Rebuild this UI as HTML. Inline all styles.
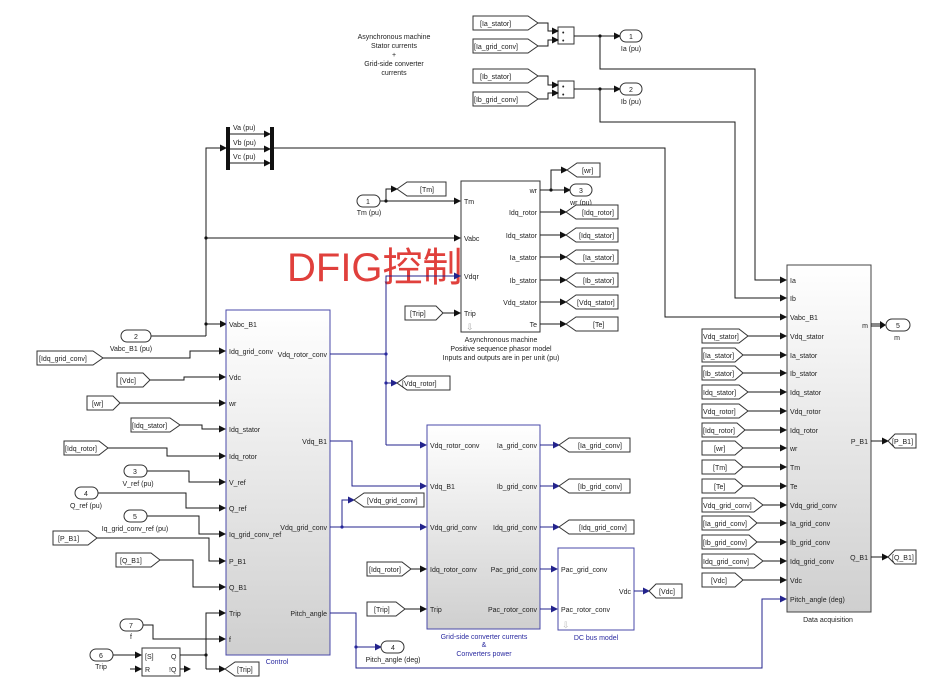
<!DOCTYPE html>
<html><head><meta charset="utf-8"><style>
html,body{margin:0;padding:0;background:#fff;}
svg{display:block;font-family:"Liberation Sans",Arial,sans-serif;}
text{font-size:7px;fill:#222;}
.k{stroke:#1a1a1a;stroke-width:1;fill:none;}
.b{stroke:#23238c;stroke-width:1;fill:none;}
.tag{fill:#fff;stroke:#333;stroke-width:1;}
.bl{fill:#2a2aa0;}
</style></head><body>
<svg width="945" height="695" viewBox="0 0 945 695" xmlns="http://www.w3.org/2000/svg">
<defs>
<marker id="ak" markerWidth="7" markerHeight="7" refX="6" refY="3.5" orient="auto" markerUnits="userSpaceOnUse"><path d="M0,0 L7,3.5 L0,7 z" fill="#111"/></marker>
<marker id="ab" markerWidth="7" markerHeight="7" refX="6" refY="3.5" orient="auto" markerUnits="userSpaceOnUse"><path d="M0,0 L7,3.5 L0,7 z" fill="#23238c"/></marker>
<linearGradient id="g" x1="0" y1="0" x2="0" y2="1"><stop offset="0" stop-color="#ffffff"/><stop offset="1" stop-color="#cfcfcf"/></linearGradient>
</defs>

<g text-anchor="middle"><text x="394" y="39">Asynchronous machine</text><text x="394" y="48">Stator currents</text><text x="394" y="57">+</text><text x="394" y="66">Grid-side converter</text><text x="394" y="75">currents</text></g>

<polygon class="tag" points="473,16 528,16 538,23 528,30 473,30"/><text x="480" y="26">[Ia_stator]</text>
<polygon class="tag" points="473,39 528,39 538,46 528,53 473,53"/><text x="474" y="49">[Ia_grid_conv]</text>
<rect x="558" y="27" width="16" height="17" fill="#fff" stroke="#333"/><text x="562" y="35" font-size="7">•</text><text x="562" y="43" font-size="7">•</text>
<path class="k" d="M538,23 H548 V31 H558" marker-end="url(#ak)"/><path class="k" d="M538,46 H548 V40 H558" marker-end="url(#ak)"/>
<path class="k" d="M574,36 H620" marker-end="url(#ak)"/><circle cx="600" cy="36" r="1.6" fill="#111"/>
<rect x="620" y="30" width="22" height="12" rx="6" fill="#fff" stroke="#333"/><text x="631" y="39" text-anchor="middle">1</text><text x="631" y="51" text-anchor="middle">Ia (pu)</text>
<path class="k" d="M600,36 V69 H755 V280 H786" marker-end="url(#ak)"/>

<polygon class="tag" points="473,69 528,69 538,76 528,83 473,83"/><text x="480" y="79">[Ib_stator]</text>
<polygon class="tag" points="473,92 528,92 538,99 528,106 473,106"/><text x="474" y="102">[Ib_grid_conv]</text>
<rect x="558" y="81" width="16" height="17" fill="#fff" stroke="#333"/><text x="562" y="89" font-size="7">•</text><text x="562" y="97" font-size="7">•</text>
<path class="k" d="M538,76 H548 V85 H558" marker-end="url(#ak)"/><path class="k" d="M538,99 H548 V93 H558" marker-end="url(#ak)"/>
<path class="k" d="M574,89 H620" marker-end="url(#ak)"/><circle cx="600" cy="89" r="1.6" fill="#111"/>
<rect x="620" y="83" width="22" height="12" rx="6" fill="#fff" stroke="#333"/><text x="631" y="92" text-anchor="middle">2</text><text x="631" y="104" text-anchor="middle">Ib (pu)</text>
<path class="k" d="M600,89 V122 H735 V298 H786" marker-end="url(#ak)"/>

<rect x="226" y="127" width="4" height="43" fill="#111"/><rect x="270" y="127" width="4" height="43" fill="#111"/>
<text x="233" y="130">Va (pu)</text><text x="233" y="145">Vb (pu)</text><text x="233" y="159">Vc (pu)</text>
<path class="k" d="M230,134 H270" marker-end="url(#ak)"/><path class="k" d="M230,149 H270" marker-end="url(#ak)"/><path class="k" d="M230,163 H270" marker-end="url(#ak)"/>
<path class="k" d="M274,148 H665 V317 H786" marker-end="url(#ak)"/>
<path class="k" d="M206,336 V148 H226" marker-end="url(#ak)"/>
<path class="k" d="M206,238 H460" marker-end="url(#ak)"/><circle cx="206" cy="238" r="1.6" fill="#111"/>
<path class="k" d="M206,324 H226" marker-end="url(#ak)"/><circle cx="206" cy="324" r="1.6" fill="#111"/>
<path class="k" d="M151,336 H206"/>
<rect x="121" y="330" width="30" height="12" rx="6" fill="#fff" stroke="#333"/><text x="136" y="339" text-anchor="middle">2</text><text x="131" y="351" text-anchor="middle">Vabc_B1 (pu)</text>

<text x="287" y="281" style="font-size:40px;fill:#e0403c;font-family:'Liberation Sans','Noto Sans CJK SC',sans-serif;">DFIG控制</text>

<rect x="461" y="181" width="79" height="151" fill="#fff" stroke="#333"/>
<text x="464" y="204">Tm</text><text x="464" y="241">Vabc</text><text x="464" y="279">Vdqr</text><text x="464" y="316">Trip</text>
<g text-anchor="end"><text x="537" y="193">wr</text><text x="537" y="215">Idq_rotor</text><text x="537" y="238">Idq_stator</text><text x="537" y="260">Ia_stator</text><text x="537" y="283">Ib_stator</text><text x="537" y="305">Vdq_stator</text><text x="537" y="327">Te</text></g>
<text x="466" y="330" style="fill:#aaa;font-size:9px">⇩</text>
<g text-anchor="middle"><text x="501" y="342">Asynchronous machine</text><text x="501" y="351">Positive sequence phasor model</text><text x="501" y="360">Inputs and outputs are in per unit (pu)</text></g>
<rect x="357" y="195" width="23" height="12" rx="6" fill="#fff" stroke="#333"/><text x="368" y="204" text-anchor="middle">1</text><text x="369" y="215" text-anchor="middle">Tm (pu)</text>
<path class="k" d="M380,201 H460" marker-end="url(#ak)"/><circle cx="386" cy="201" r="1.6" fill="#111"/>
<path class="k" d="M386,201 V189 H397" marker-end="url(#ak)"/>
<polygon class="tag" points="397,189 407,182 446,182 446,196 407,196"/><text x="420" y="192">[Tm]</text>
<polygon class="tag" points="405,306 436,306 443,313 436,320 405,320"/><text x="410" y="316">[Trip]</text>
<path class="k" d="M443,313 H460" marker-end="url(#ak)"/>
<path class="k" d="M540,190 H570" marker-end="url(#ak)"/><circle cx="551" cy="190" r="1.6" fill="#111"/>
<path class="k" d="M551,190 V170 H567" marker-end="url(#ak)"/>
<polygon class="tag" points="567,170 577,163 600,163 600,177 577,177"/><text x="582" y="173">[wr]</text>
<rect x="570" y="184" width="22" height="12" rx="6" fill="#fff" stroke="#333"/><text x="581" y="193" text-anchor="middle">3</text><text x="581" y="205" text-anchor="middle">wr (pu)</text>
<g>
<path class="k" d="M540,212 H566" marker-end="url(#ak)"/><polygon class="tag" points="566,212 576,205 618,205 618,219 576,219"/><text x="582" y="215">[Idq_rotor]</text>
<path class="k" d="M540,235 H566" marker-end="url(#ak)"/><polygon class="tag" points="566,235 576,228 618,228 618,242 576,242"/><text x="579" y="238">[Idq_stator]</text>
<path class="k" d="M540,257 H566" marker-end="url(#ak)"/><polygon class="tag" points="566,257 576,250 618,250 618,264 576,264"/><text x="583" y="260">[Ia_stator]</text>
<path class="k" d="M540,280 H566" marker-end="url(#ak)"/><polygon class="tag" points="566,280 576,273 618,273 618,287 576,287"/><text x="583" y="283">[Ib_stator]</text>
<path class="k" d="M540,302 H566" marker-end="url(#ak)"/><polygon class="tag" points="566,302 576,295 618,295 618,309 576,309"/><text x="577" y="305">[Vdq_stator]</text>
<path class="k" d="M540,324 H566" marker-end="url(#ak)"/><polygon class="tag" points="566,324 576,317 618,317 618,331 576,331"/><text x="593" y="327">[Te]</text>
</g>

<rect x="226" y="310" width="104" height="345" fill="url(#g)" stroke="#4a4aa8"/>
<text x="277" y="664" text-anchor="middle" style="fill:#2a2aa0">Control</text>
<g>
<text x="229" y="327">Vabc_B1</text><text x="229" y="354">Idq_grid_conv</text><text x="229" y="380">Vdc</text><text x="229" y="406">wr</text><text x="229" y="432">Idq_stator</text><text x="229" y="459">Idq_rotor</text><text x="229" y="485">V_ref</text><text x="229" y="511">Q_ref</text><text x="229" y="537">Iq_grid_conv_ref</text><text x="229" y="564">P_B1</text><text x="229" y="590">Q_B1</text><text x="229" y="616">Trip</text><text x="229" y="642">f</text>
</g>
<g text-anchor="end"><text x="327" y="357">Vdq_rotor_conv</text><text x="327" y="444">Vdq_B1</text><text x="327" y="530">Vdq_grid_conv</text><text x="327" y="616">Pitch_angle</text></g>

<polygon class="tag" points="37,351 93,351 103,358 93,365 37,365"/><text x="39" y="361">[Idq_grid_conv]</text>
<path class="k" d="M103,358 H190 V351 H225" marker-end="url(#ak)"/>
<polygon class="tag" points="117,373 143,373 150,380 143,387 117,387"/><text x="120" y="383">[Vdc]</text>
<path class="k" d="M150,380 H184 V377 H225" marker-end="url(#ak)"/>
<polygon class="tag" points="87,396 113,396 120,403 113,410 87,410"/><text x="92" y="406">[wr]</text>
<path class="k" d="M120,403 H225" marker-end="url(#ak)"/>
<polygon class="tag" points="131,418 170,418 180,425 170,432 131,432"/><text x="132" y="428">[Idq_stator]</text>
<path class="k" d="M180,425 H202 V429 H225" marker-end="url(#ak)"/>
<polygon class="tag" points="64,441 99,441 108,448 99,455 64,455"/><text x="65" y="451">[Idq_rotor]</text>
<path class="k" d="M108,448 H167 V456 H225" marker-end="url(#ak)"/>
<rect x="124" y="465" width="23" height="12" rx="6" fill="#fff" stroke="#333"/><text x="135" y="474" text-anchor="middle">3</text><text x="138" y="486" text-anchor="middle">V_ref (pu)</text>
<path class="k" d="M147,471 H189 V482 H225" marker-end="url(#ak)"/>
<rect x="75" y="487" width="23" height="12" rx="6" fill="#fff" stroke="#333"/><text x="86" y="496" text-anchor="middle">4</text><text x="86" y="508" text-anchor="middle">Q_ref (pu)</text>
<path class="k" d="M98,493 H186 V508 H225" marker-end="url(#ak)"/>
<rect x="124" y="510" width="23" height="12" rx="6" fill="#fff" stroke="#333"/><text x="135" y="519" text-anchor="middle">5</text><text x="135" y="531" text-anchor="middle">Iq_grid_conv_ref (pu)</text>
<path class="k" d="M147,516 H199 V534 H225" marker-end="url(#ak)"/>
<polygon class="tag" points="53,531 88,531 97,538 88,545 53,545"/><text x="58" y="541">[P_B1]</text>
<path class="k" d="M97,538 H209 V561 H225" marker-end="url(#ak)"/>
<polygon class="tag" points="116,553 151,553 160,560 151,567 116,567"/><text x="120" y="563">[Q_B1]</text>
<path class="k" d="M160,560 H193 V587 H225" marker-end="url(#ak)"/>
<rect x="120" y="619" width="23" height="12" rx="6" fill="#fff" stroke="#333"/><text x="131" y="628" text-anchor="middle">7</text><text x="131" y="639" text-anchor="middle">f</text>
<path class="k" d="M143,625 H153 V639 H225" marker-end="url(#ak)"/>
<rect x="90" y="649" width="23" height="12" rx="6" fill="#fff" stroke="#333"/><text x="101" y="658" text-anchor="middle">6</text><text x="101" y="669" text-anchor="middle">Trip</text>
<path class="k" d="M113,655 H141" marker-end="url(#ak)"/>
<path class="k" d="M130,669 H141" marker-end="url(#ak)"/>
<rect x="142" y="648" width="38" height="28" fill="#fff" stroke="#333"/>
<text x="145" y="659">[S]</text><text x="145" y="672">R</text><text x="171" y="659">Q</text><text x="169" y="672">!Q</text>
<path class="k" d="M180,669 H190" marker-end="url(#ak)"/>
<path class="k" d="M180,655 H206"/><circle cx="206" cy="655" r="1.6" fill="#111"/>
<path class="k" d="M206,669 V613 H225" marker-end="url(#ak)"/>
<path class="k" d="M206,669 H225" marker-end="url(#ak)"/>
<polygon class="tag" points="225,669 235,662 259,662 259,676 235,676"/><text x="237" y="672">[Trip]</text>

<path class="b" d="M330,354 H386"/>
<path class="b" d="M386,445 V276 H460" marker-end="url(#ab)"/>
<path class="b" d="M386,445 H426" marker-end="url(#ab)"/>
<circle cx="386" cy="354" r="1.6" class="bl"/><circle cx="386" cy="383" r="1.6" class="bl"/>
<path class="b" d="M386,383 H397" marker-end="url(#ab)"/>
<polygon class="tag" points="397,383 407,376 450,376 450,390 407,390"/><text x="402" y="386">[Vdq_rotor]</text>
<path class="b" d="M330,441 H352 V486 H426" marker-end="url(#ab)"/>
<path class="b" d="M330,527 H426" marker-end="url(#ab)"/><circle cx="342" cy="527" r="1.6" class="bl"/>
<path class="b" d="M342,527 V500 H354" marker-end="url(#ab)"/>
<polygon class="tag" points="354,500 364,493 424,493 424,507 364,507"/><text x="367" y="503">[Vdq_grid_conv]</text>
<path class="b" d="M330,613 H356 V668 H762 V599 H786" marker-end="url(#ab)"/>
<circle cx="356" cy="647" r="1.6" class="bl"/>
<path class="b" d="M356,647 H381" marker-end="url(#ab)"/>
<rect x="381" y="641" width="23" height="12" rx="6" fill="#fff" stroke="#333"/><text x="393" y="650" text-anchor="middle">4</text><text x="393" y="662" text-anchor="middle">Pitch_angle (deg)</text>

<rect x="427" y="425" width="113" height="204" fill="url(#g)" stroke="#4a4aa8"/>
<text x="430" y="448">Vdq_rotor_conv</text><text x="430" y="489">Vdq_B1</text><text x="430" y="530">Vdq_grid_conv</text><text x="430" y="572">Idq_rotor_conv</text><text x="430" y="612">Trip</text>
<g text-anchor="end"><text x="537" y="448">Ia_grid_conv</text><text x="537" y="489">Ib_grid_conv</text><text x="537" y="530">Idq_grid_conv</text><text x="537" y="572">Pac_grid_conv</text><text x="537" y="612">Pac_rotor_conv</text></g>
<g text-anchor="middle"><text x="484" y="639" style="fill:#2a2aa0">Grid-side converter currents</text><text x="484" y="647" style="fill:#2a2aa0">&amp;</text><text x="484" y="656" style="fill:#2a2aa0">Converters power</text></g>
<polygon class="tag" points="367,562 402,562 411,569 402,576 367,576"/><text x="369" y="572">[Idq_rotor]</text>
<path class="k" d="M411,569 H426" marker-end="url(#ak)"/>
<polygon class="tag" points="367,602 396,602 405,609 396,616 367,616"/><text x="374" y="612">[Trip]</text>
<path class="k" d="M405,609 H426" marker-end="url(#ak)"/>
<path class="b" d="M540,445 H559" marker-end="url(#ab)"/><polygon class="tag" points="559,445 569,438 630,438 630,452 569,452"/><text x="578" y="448">[Ia_grid_conv]</text>
<path class="b" d="M540,486 H559" marker-end="url(#ab)"/><polygon class="tag" points="559,486 569,479 630,479 630,493 569,493"/><text x="578" y="489">[Ib_grid_conv]</text>
<path class="b" d="M540,527 H559" marker-end="url(#ab)"/><polygon class="tag" points="559,527 569,520 634,520 634,534 569,534"/><text x="579" y="530">[Idq_grid_conv]</text>
<path class="b" d="M540,569 H557" marker-end="url(#ab)"/>
<path class="b" d="M540,609 H557" marker-end="url(#ab)"/>

<rect x="558" y="548" width="76" height="82" fill="#fff" stroke="#4a4aa8"/>
<text x="561" y="572">Pac_grid_conv</text><text x="561" y="612">Pac_rotor_conv</text><text x="631" y="594" text-anchor="end">Vdc</text>
<text x="562" y="628" style="fill:#bbb;font-size:9px">⇩</text>
<text x="596" y="640" text-anchor="middle" style="fill:#2a2aa0">DC bus model</text>
<path class="b" d="M634,591 H649" marker-end="url(#ab)"/>
<polygon class="tag" points="649,591 656,584 682,584 682,598 656,598"/><text x="659" y="594">[Vdc]</text>

<rect x="787" y="265" width="84" height="347" fill="url(#g)" stroke="#444"/>
<g>
<text x="790" y="283">Ia</text><text x="790" y="301">Ib</text><text x="790" y="320">Vabc_B1</text><text x="790" y="339">Vdq_stator</text><text x="790" y="358">Ia_stator</text><text x="790" y="376">Ib_stator</text><text x="790" y="395">Idq_stator</text><text x="790" y="414">Vdq_rotor</text><text x="790" y="433">Idq_rotor</text><text x="790" y="451">wr</text><text x="790" y="470">Tm</text><text x="790" y="489">Te</text><text x="790" y="508">Vdq_grid_conv</text><text x="790" y="526">Ia_grid_conv</text><text x="790" y="545">Ib_grid_conv</text><text x="790" y="564">Idq_grid_conv</text><text x="790" y="583">Vdc</text><text x="790" y="602">Pitch_angle (deg)</text>
</g>
<g text-anchor="end"><text x="868" y="328">m</text><text x="868" y="444">P_B1</text><text x="868" y="560">Q_B1</text></g>
<text x="828" y="622" text-anchor="middle">Data acquisition</text>
<path d="M871,324 H882 M871,326 H882" stroke="#111" stroke-width="1"/><path d="M880,321 L886,325 L880,329 z" fill="#111"/>
<rect x="886" y="319" width="24" height="12" rx="6" fill="#fff" stroke="#333"/><text x="898" y="328" text-anchor="middle">5</text><text x="897" y="340" text-anchor="middle">m</text>
<path class="k" d="M871,441 H888" marker-end="url(#ak)"/><polygon class="tag" points="888,441 895,434 916,434 916,448 895,448"/><text x="892" y="444">[P_B1]</text>
<path class="k" d="M871,557 H888" marker-end="url(#ak)"/><polygon class="tag" points="888,557 895,550 916,550 916,564 895,564"/><text x="892" y="560">[Q_B1]</text>

<g>
<polygon class="tag" points="702,329 739,329 748,336 739,343 702,343"/><text x="703" y="339">Vdq_stator]</text><path class="k" d="M748,336 H786" marker-end="url(#ak)"/>
<polygon class="tag" points="702,348 735,348 743,355 735,362 702,362"/><text x="703" y="358">[Ia_stator]</text><path class="k" d="M743,355 H786" marker-end="url(#ak)"/>
<polygon class="tag" points="702,366 735,366 743,373 735,380 702,380"/><text x="703" y="376">[Ib_stator]</text><path class="k" d="M743,373 H786" marker-end="url(#ak)"/>
<polygon class="tag" points="702,385 739,385 748,392 739,399 702,399"/><text x="703" y="395">Idq_stator]</text><path class="k" d="M748,392 H786" marker-end="url(#ak)"/>
<polygon class="tag" points="702,404 739,404 748,411 739,418 702,418"/><text x="703" y="414">Vdq_rotor]</text><path class="k" d="M748,411 H786" marker-end="url(#ak)"/>
<polygon class="tag" points="702,423 737,423 745,430 737,437 702,437"/><text x="703" y="433">[Idq_rotor]</text><path class="k" d="M745,430 H786" marker-end="url(#ak)"/>
<polygon class="tag" points="702,441 735,441 743,448 735,455 702,455"/><text x="714" y="451">[wr]</text><path class="k" d="M743,448 H786" marker-end="url(#ak)"/>
<polygon class="tag" points="702,460 735,460 743,467 735,474 702,474"/><text x="713" y="470">[Tm]</text><path class="k" d="M743,467 H786" marker-end="url(#ak)"/>
<polygon class="tag" points="702,479 735,479 743,486 735,493 702,493"/><text x="714" y="489">[Te]</text><path class="k" d="M743,486 H786" marker-end="url(#ak)"/>
<polygon class="tag" points="702,498 754,498 763,505 754,512 702,512"/><text x="703" y="508">Vdq_grid_conv]</text><path class="k" d="M763,505 H786" marker-end="url(#ak)"/>
<polygon class="tag" points="702,516 749,516 757,523 749,530 702,530"/><text x="703" y="526">[Ia_grid_conv]</text><path class="k" d="M757,523 H786" marker-end="url(#ak)"/>
<polygon class="tag" points="702,535 749,535 757,542 749,549 702,549"/><text x="703" y="545">[Ib_grid_conv]</text><path class="k" d="M757,542 H786" marker-end="url(#ak)"/>
<polygon class="tag" points="702,554 754,554 763,561 754,568 702,568"/><text x="703" y="564">Idq_grid_conv]</text><path class="k" d="M763,561 H786" marker-end="url(#ak)"/>
<polygon class="tag" points="702,573 735,573 743,580 735,587 702,587"/><text x="711" y="583">[Vdc]</text><path class="k" d="M743,580 H786" marker-end="url(#ak)"/>
</g>
</svg>
</body></html>
